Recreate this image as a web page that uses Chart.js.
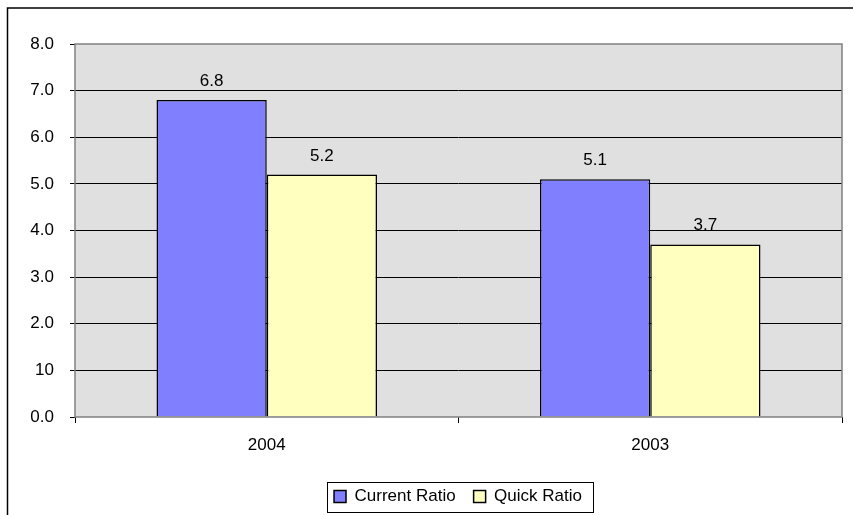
<!DOCTYPE html>
<html>
<head>
<meta charset="utf-8">
<script src="https://cdn.jsdelivr.net/npm/chart.js@4"></script>
<style>
  html, body { margin: 0; padding: 0; background: #fff; }
  canvas { display: block; }
</style>
</head>
<body>
<canvas id="chart" width="853" height="515"></canvas>
<script>
"use strict";

// data
const years = ["2004", "2003"];
const currentRatio = [6.8, 5.1];
const quickRatio = [5.2, 3.7];
const yTickLabels = ["0.0", "10", "2.0", "3.0", "4.0", "5.0", "6.0", "7.0", "8.0"];

const FONT = "'Liberation Sans', Arial, sans-serif";

// frame, plot background, value labels, legend box
const decor = {
  id: "decor",
  afterLayout(chart) {
    // legend sits a bit right of centre in the original
    const lg = chart.legend;
    lg.left += 33;
    lg.right += 33;
    lg.top += 2;
    lg.bottom += 2;
  },
  beforeDraw(chart) {
    const c = chart.ctx;
    const a = chart.chartArea;
    c.save();
    c.fillStyle = "#e0e0e0";
    c.fillRect(a.left, a.top, a.right - a.left, a.bottom - a.top);
    c.strokeStyle = "#000";
    c.lineWidth = 1.5;
    c.beginPath();
    c.moveTo(7.5, 515);
    c.lineTo(7.5, 8);
    c.lineTo(853, 8);
    c.stroke();
    c.restore();
  },
  afterDatasetsDraw(chart) {
    const c = chart.ctx;
    const a = chart.chartArea;
    c.save();
    c.strokeStyle = "#808080";
    c.lineWidth = 1.5;
    c.strokeRect(a.left, a.top, a.right - a.left, a.bottom - a.top);

    c.fillStyle = "#000";
    c.font = "17px " + FONT;
    c.textAlign = "center";
    c.textBaseline = "alphabetic";
    chart.data.datasets.forEach((ds, i) => {
      chart.getDatasetMeta(i).data.forEach((bar, j) => {
        c.fillText(ds.data[j].toFixed(1), bar.x, bar.y - 14);
      });
    });
    c.restore();
  },
  afterDraw(chart) {
    const lg = chart.legend;
    if (!lg || !lg.legendHitBoxes.length) return;
    const boxes = lg.legendHitBoxes;
    const last = boxes[boxes.length - 1];
    const left = boxes[0].left - 7;
    const right = last.left + last.width + 11;
    const mid = boxes[0].top + boxes[0].height / 2;
    const c = chart.ctx;
    c.save();
    c.strokeStyle = "#000";
    c.lineWidth = 1;
    c.strokeRect(Math.round(left) + 0.5, Math.round(mid - 15) + 0.5, Math.round(right - left), 30);
    c.restore();
  }
};

const ctx = document.getElementById("chart").getContext("2d");
const chart = new Chart(ctx, {
  type: "bar",
  data: {
    labels: years,
    datasets: [{
      label: "Current Ratio",
      data: currentRatio,
      backgroundColor: "#8080ff",
      borderColor: "#000",
      borderWidth: 1.5
    }, {
      label: "Quick Ratio",
      data: quickRatio,
      backgroundColor: "#ffffc0",
      borderColor: "#000",
      borderWidth: 1.5
    }]
  },
  options: {
    responsive: false,
    animation: false,
    events: [],
    layout: { padding: { left: 8, right: 11, top: 44, bottom: 2 } },
    datasets: {
      bar: { categoryPercentage: 0.575, barPercentage: 1.0 }
    },
    scales: {
      x: {
        grid: {
          display: true,
          drawOnChartArea: false,
          drawTicks: true,
          tickLength: 6,
          tickColor: "#000",
          offset: true
        },
        border: { display: false },
        ticks: {
          color: "#000",
          font: { family: FONT, size: 17 },
          padding: 12
        },
        afterFit(scale) { scale.height = 51; }
      },
      y: {
        min: 0,
        max: 8,
        grid: {
          color: (c) => (c.index === 0 || c.index === 8) ? "rgba(0,0,0,0)" : "#000",
          lineWidth: 1,
          tickLength: 5,
          tickColor: "#000"
        },
        border: { display: false },
        ticks: {
          stepSize: 1,
          color: "#000",
          font: { family: FONT, size: 17 },
          padding: 16,
          callback: (v, i) => yTickLabels[i]
        },
        afterFit(scale) { scale.width = 67; }
      }
    },
    plugins: {
      tooltip: { enabled: false },
      legend: {
        position: "bottom",
        labels: {
          color: "#000",
          font: { family: FONT, size: 17 },
          boxWidth: 12,
          boxHeight: 12,
          padding: 18,
          useBorderRadius: false
        }
      }
    }
  },
  plugins: [decor]
});
</script>
</body>
</html>
